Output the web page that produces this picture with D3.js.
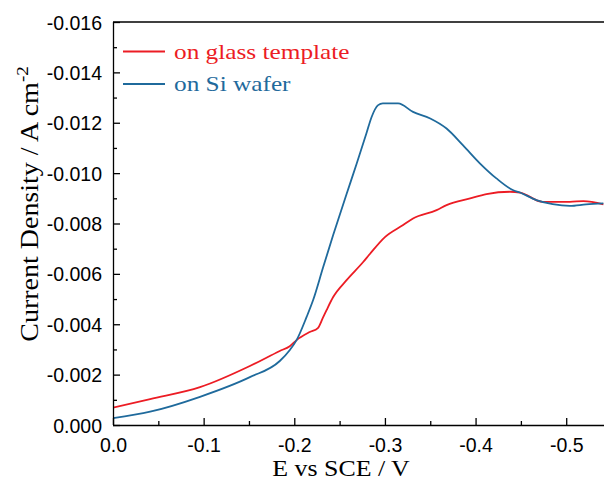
<!DOCTYPE html>
<html>
<head>
<meta charset="utf-8">
<script src="https://cdn.jsdelivr.net/npm/d3@7"></script>
<style>
  body { margin: 0; background: #fff; }
  svg { display: block; }
</style>
</head>
<body>
<div id="chart"></div>
<script>
// Potential (V vs SCE) and current density (A cm-2)
const glassE = [0, -0.041, -0.096, -0.151, -0.184, -0.195, -0.2025, -0.217, -0.226, -0.2315, -0.2356, -0.2429, -0.2577, -0.276, -0.2834, -0.300, -0.3201, -0.331, -0.357, -0.368, -0.394, -0.412, -0.438, -0.449, -0.474, -0.504, -0.519, -0.541];
const glassJ = [-0.00069, -0.00103, -0.00150, -0.00234, -0.00294, -0.00313, -0.00337, -0.00369, -0.00385, -0.00425, -0.00456, -0.00508, -0.00575, -0.00647, -0.00679, -0.00746, -0.00794, -0.00820, -0.00853, -0.00873, -0.00900, -0.00917, -0.00926, -0.00923, -0.00886, -0.00886, -0.00889, -0.00876];

const siE = [0, -0.041, -0.096, -0.151, -0.184, -0.1951, -0.2025, -0.2136, -0.2208, -0.2319, -0.2429, -0.2577, -0.2687, -0.2797, -0.2852, -0.2925, -0.2977, -0.3146, -0.331, -0.350, -0.368, -0.386, -0.405, -0.423, -0.441, -0.449, -0.467, -0.485, -0.504, -0.522, -0.541];
const siJ = [-0.00027, -0.00053, -0.00112, -0.00190, -0.00254, -0.00298, -0.00337, -0.00429, -0.00496, -0.00627, -0.00754, -0.00917, -0.01036, -0.01159, -0.01222, -0.01270, -0.01277, -0.01277, -0.01243, -0.01217, -0.01177, -0.01111, -0.01038, -0.00979, -0.00933, -0.00923, -0.00893, -0.00877, -0.00870, -0.00876, -0.00880];

const xTicks = [0, -0.1, -0.2, -0.3, -0.4, -0.5];
const xMinor = [-0.05, -0.15, -0.25, -0.35, -0.45];
const yTicks = [0, -0.002, -0.004, -0.006, -0.008, -0.010, -0.012, -0.014, -0.016];
const yMinor = [-0.001, -0.003, -0.005, -0.007, -0.009, -0.011, -0.013, -0.015];

const seriesNames = ["on glass template", "on Si wafer"];
const seriesColors = ["#ec1c24", "#1f6a9c"];

const W = 604, H = 480;
const mLeft = 113, mTop = 22, mBottom = 425, mRight = 607;

const svg = d3.select("#chart").append("svg")
  .attr("width", W)
  .attr("height", H);

const x = d3.scaleLinear().domain([0, -0.545]).range([mLeft, mRight]);
const y = d3.scaleLinear().domain([0, -0.016]).range([mBottom, mTop]);

const sans = "'Liberation Sans', Arial, sans-serif";
const serif = "'Liberation Serif', 'Times New Roman', serif";

// plain hyphen instead of d3's unicode minus
const fmt = p => d => d3.format(p)(d).replace("\u2212", "-");

// curves
const line = d3.line()
  .x(d => x(d[0]))
  .y(d => y(d[1]))
  .curve(d3.curveMonotoneX);

const series = [
  d3.zip(glassE, glassJ),
  d3.zip(siE, siJ)
];

svg.append("clipPath").attr("id", "clip")
  .append("rect")
  .attr("x", mLeft).attr("y", mTop)
  .attr("width", mRight - mLeft).attr("height", mBottom - mTop);

series.forEach((pts, i) => {
  svg.append("path")
    .datum(pts)
    .attr("clip-path", "url(#clip)")
    .attr("fill", "none")
    .attr("stroke", seriesColors[i])
    .attr("stroke-width", 1.8)
    .attr("d", line);
});

// axes (ticks inside)
const xAxis = svg.append("g")
  .attr("transform", `translate(0,${mBottom})`)
  .call(d3.axisBottom(x).tickValues(xTicks).tickSize(-7).tickFormat(fmt(".1f")));
xAxis.selectAll(".tick text")
  .attr("y", 27)
  .attr("dy", 0)
  .attr("font-family", sans)
  .attr("font-size", 19.5)
  .attr("fill", "#000");

svg.append("g")
  .attr("transform", `translate(0,${mBottom})`)
  .call(d3.axisBottom(x).tickValues(xMinor).tickSize(-4).tickFormat(""))
  .select(".domain").remove();

const yAxis = svg.append("g")
  .attr("transform", `translate(${mLeft},0)`)
  .call(d3.axisLeft(y).tickValues(yTicks).tickSize(-7).tickFormat(fmt(".3f")));
yAxis.selectAll(".tick text")
  .attr("x", -11)
  .attr("dy", "0.36em")
  .attr("font-family", sans)
  .attr("font-size", 19.5)
  .attr("fill", "#000");

svg.append("g")
  .attr("transform", `translate(${mLeft},0)`)
  .call(d3.axisLeft(y).tickValues(yMinor).tickSize(-4).tickFormat(""))
  .select(".domain").remove();

svg.selectAll(".domain, .tick line")
  .attr("stroke", "#000")
  .attr("stroke-width", 1.3);
xAxis.select(".domain").attr("d", `M${mLeft},0.5H${mRight}`);
yAxis.select(".domain").attr("d", `M0.5,${mBottom}V${mTop}`);

// top frame
svg.append("line")
  .attr("x1", mLeft).attr("x2", mRight)
  .attr("y1", mTop).attr("y2", mTop)
  .attr("stroke", "#000")
  .attr("stroke-width", 1.3);

// legend
seriesNames.forEach((name, i) => {
  const ly = 51.5 + i * 32.5;
  svg.append("line")
    .attr("x1", 123).attr("x2", 165)
    .attr("y1", ly).attr("y2", ly)
    .attr("stroke", seriesColors[i])
    .attr("stroke-width", 1.8);
  svg.append("text")
    .attr("transform", `translate(174,${ly + 7}) scale(1.15,1)`)
    .attr("font-family", serif)
    .attr("font-size", 22)
    .attr("fill", seriesColors[i])
    .text(name);
});

// axis titles
svg.append("text")
  .attr("transform", "translate(341,476) scale(1.15,1)")
  .attr("text-anchor", "middle")
  .attr("font-family", serif)
  .attr("font-size", 22.5)
  .attr("fill", "#000")
  .text("E vs SCE / V");

const yt = svg.append("text")
  .attr("transform", "translate(38,204) rotate(-90) scale(1.12,1)")
  .attr("text-anchor", "middle")
  .attr("font-family", serif)
  .attr("font-size", 25)
  .attr("fill", "#000");
yt.append("tspan").text("Current Density / A cm");
yt.append("tspan")
  .attr("dy", -10)
  .attr("font-size", 17)
  .text("-2");
</script>
</body>
</html>
